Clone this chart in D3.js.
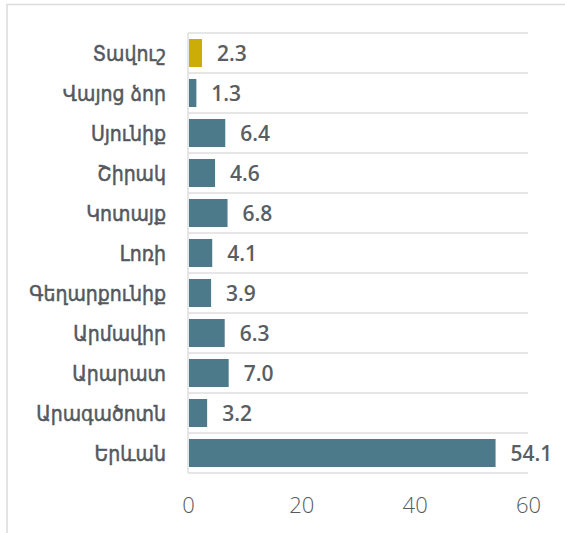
<!DOCTYPE html>
<html>
<head>
<meta charset="utf-8">
<script src="https://cdn.jsdelivr.net/npm/d3@7"></script>
<style>
  body { margin: 0; background: #fff; }
  svg { display: block; }
</style>
</head>
<body>
<svg id="region_plot" width="565" height="533"></svg>
<script>
// data
let regions = ["Տավուշ", "Վայոց ձոր", "Սյունիք", "Շիրակ", "Կոտայք", "Լոռի",
  "Գեղարքունիք", "Արմավիր", "Արարատ", "Արագածոտն", "Երևան"];
let shares = [2.3, 1.3, 6.4, 4.6, 6.8, 4.1, 3.9, 6.3, 7.0, 3.2, 54.1];
let highlighted = ["Տավուշ"];
let xTicks = [0, 20, 40, 60];

let width = 565, height = 533;
let marginTop = 33, marginLeft = 188, marginRight = 37, marginBottom = 60;
let teal = "#4d7a8a", gold = "#ccad07";

let svg = d3.select("#region_plot");

// outer frame
svg.append("path")
  .attr("d", `M7,${height} V4.5 H${width}`)
  .attr("fill", "none")
  .attr("stroke", "#dcdcdc")
  .attr("stroke-width", 1.5);

let x = d3.scaleLinear().domain([0, 60]).range([marginLeft, width - marginRight]);
let y = d3.scaleBand().domain(regions).range([marginTop, height - marginBottom])
  .paddingInner(0.3).paddingOuter(0.15);

// band separators
let step = y.step();
svg.append("g")
  .selectAll("line")
  .data(d3.range(regions.length + 1))
  .enter()
  .append("line")
  .attr("x1", marginLeft)
  .attr("x2", x(60))
  .attr("y1", i => marginTop + i * step)
  .attr("y2", i => marginTop + i * step)
  .attr("stroke", "#dedede")
  .attr("stroke-width", 1.5);

// y axis line
svg.append("line")
  .attr("x1", marginLeft).attr("x2", marginLeft)
  .attr("y1", marginTop).attr("y2", marginTop + regions.length * step)
  .attr("stroke", "#dedede")
  .attr("stroke-width", 1.5);

// bars
svg.append("g")
  .selectAll("rect")
  .data(regions)
  .enter()
  .append("rect")
  .attr("x", x(0) + 1)
  .attr("y", d => y(d))
  .attr("width", (d, i) => x(shares[i]) - x(0))
  .attr("height", y.bandwidth())
  .attr("fill", d => highlighted.includes(d) ? gold : teal);

// value labels
svg.append("g")
  .selectAll("text")
  .data(regions)
  .enter()
  .append("text")
  .attr("x", (d, i) => x(shares[i]) + 16)
  .attr("y", d => y(d) + y.bandwidth() / 2)
  .attr("dy", "0.36em")
  .style("font-family", "'Open Sans', sans-serif")
  .style("font-size", "21px")
  .style("font-weight", "600")
  .style("fill", "#595e63")
  .text((d, i) => shares[i].toFixed(1));

// category labels
svg.append("g")
  .selectAll("text")
  .data(regions)
  .enter()
  .append("text")
  .attr("x", marginLeft - 22)
  .attr("y", d => y(d) + y.bandwidth() / 2)
  .attr("dy", "0.36em")
  .style("text-anchor", "end")
  .style("font-family", "'DejaVu Sans Condensed', 'DejaVu Sans', sans-serif")
  .style("font-stretch", "condensed")
  .style("font-size", "21px")
  .style("font-weight", "normal")
  .style("fill", "#54595e")
  .style("stroke", "#54595e")
  .style("stroke-width", 0.5)
  .text(d => d);

// x axis tick labels
let xAxis = svg.append("g")
  .attr("transform", `translate(0,${height - 28})`)
  .call(d3.axisBottom(x).tickValues(xTicks).tickSize(0).tickPadding(0));
xAxis.select(".domain").remove();
xAxis.selectAll("text")
  .attr("dy", "0.36em")
  .style("font-family", "'Open Sans', sans-serif")
  .style("font-size", "22px")
  .style("font-weight", "300")
  .style("fill", "#555b60");
</script>
</body>
</html>
